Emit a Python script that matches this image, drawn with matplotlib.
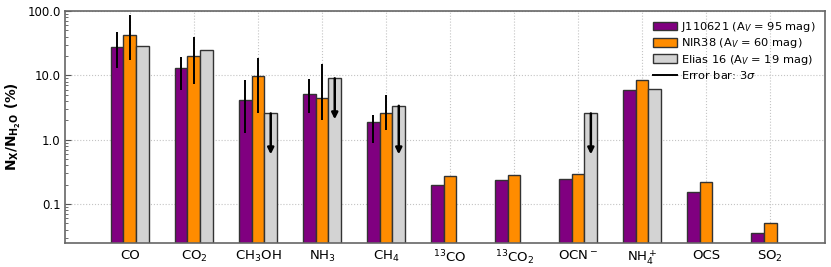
import numpy as np
import matplotlib
matplotlib.use("Agg")
import matplotlib.pyplot as plt
from matplotlib.patches import Patch
from matplotlib.lines import Line2D

categories = ["CO", r"CO$_2$", r"CH$_3$OH", r"NH$_3$", r"CH$_4$", r"$^{13}$CO",
              r"$^{13}$CO$_2$", r"OCN$^-$", r"NH$_4^+$", "OCS", r"SO$_2$"]

j110621 = [28, 13.2, 4.1, 5.05, 1.88, 0.198, 0.237, 0.24, 5.96, 0.151, 0.0355]
j110621_lo = [13, 5.9, 1.27, 2.55, 0.87, None, None, None, None, None, None]
j110621_hi = [47, 19, 8.3, 8.6, 2.45, None, None, None, None, None, None]

nir38 = [43, 20, 9.9, 4.47, 2.63, 0.267, 0.284, 0.297, 8.45, 0.22, 0.05]
nir38_lo = [17, 7.3, 2.6, 2.05, 1.4, None, None, None, None, None, None]
nir38_hi = [85, 38.7, 18.5, 15, 4.9, None, None, None, None, None, None]

elias16 = [29, 24.5, 2.55, 8.97, 3.35, None, None, 2.55, 6.17, None, None]
elias16_upper_limit = [False, False, True, True, True, False, False, True, False, False, False]
elias16_limit_tip = [None, None, 0.59, 2.07, 0.59, None, None, 0.59, None, None, None]

legend_labels = [r"J110621 (A$_V$ = 95 mag)", r"NIR38 (A$_V$ = 60 mag)",
                 r"Elias 16 (A$_V$ = 19 mag)", r"Error bar: 3$\sigma$"]
colors = ["#800080", "#FF8C00", "#D3D3D3"]
ytick_vals = [0.1, 1.0, 10.0, 100.0]
ytick_labels = ["0.1", "1.0", "10.0", "100.0"]

fig = plt.figure(figsize=(8.31, 2.67), dpi=100)
ax = fig.add_axes([0.078, 0.09, 0.915, 0.869])

x = np.arange(len(categories))
w = 0.2
edge = "#333333"

def vals(a):
    return np.array([np.nan if v is None else v for v in a], dtype=float)

series = [(j110621, j110621_lo, j110621_hi), (nir38, nir38_lo, nir38_hi), (elias16, None, None)]
offsets = [-w, 0, w]
for (s, lo, hi), off, c in zip(series, offsets, colors):
    v = vals(s)
    m = ~np.isnan(v)
    ax.bar(x[m] + off, v[m], width=w, color=c, edgecolor=edge, linewidth=1.0, zorder=2)
    if lo is not None:
        l = vals(lo); h = vals(hi)
        mm = ~np.isnan(l)
        ax.vlines(x[mm] + off, l[mm], h[mm], color="k", lw=1.4, zorder=3)

ev = vals(elias16); tip = vals(elias16_limit_tip)
for i, ul in enumerate(elias16_upper_limit):
    if ul:
        ax.annotate("", xy=(x[i] + w, tip[i]), xytext=(x[i] + w, ev[i]),
                    arrowprops=dict(arrowstyle="-|>", color="k", lw=1.8,
                                    mutation_scale=9, shrinkA=0, shrinkB=0),
                    zorder=4)

ax.set_yscale("log")
ax.set_ylim(0.0247, 100)
ax.set_xlim(-1.016, 10.86)
ax.set_xticks(x)
ax.set_xticklabels(categories, fontsize=9.5)
ax.set_yticks(ytick_vals)
ax.set_yticklabels(ytick_labels, fontsize=8.5)
ax.tick_params(axis="x", length=0, pad=4)
ax.tick_params(axis="y", which="major", direction="in", length=4, color="#555555", pad=3)
ax.tick_params(axis="y", which="minor", direction="in", length=2, color="#555555")
ax.grid(True, which="major", color="#c4c4c4", linestyle=":", linewidth=0.8, zorder=0)
ax.set_axisbelow(True)
for sp in ax.spines.values():
    sp.set_color("#666666")
    sp.set_linewidth(1.2)

ax.set_ylabel(r"N$_\mathregular{X}$/N$_{\mathregular{H_2O}}$ (%)", fontsize=9.8,
              fontweight="bold", labelpad=3)

handles = [Patch(facecolor=c, edgecolor=edge, linewidth=1.0) for c in colors]
handles.append(Line2D([0], [0], color="k", lw=1.4))
ax.legend(handles, legend_labels, loc="upper right", frameon=False, fontsize=8.2,
          handlelength=2.1, handleheight=0.75, handletextpad=0.4,
          labelspacing=0.2, borderaxespad=0.4)

fig.savefig("out.png", dpi=100)
